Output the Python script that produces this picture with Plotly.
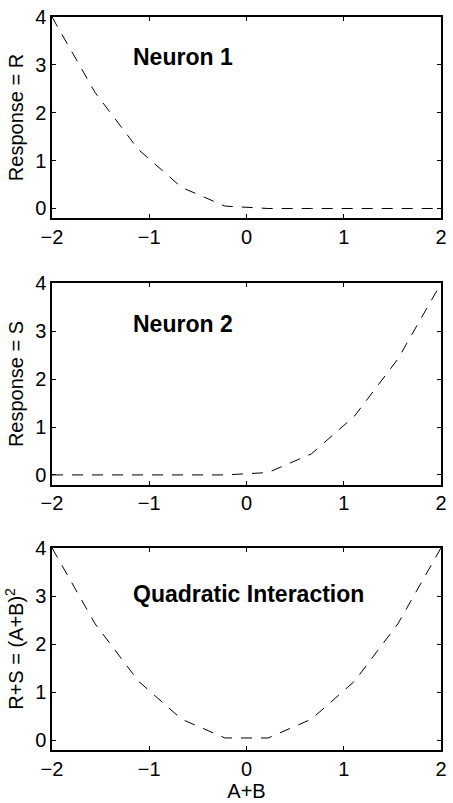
import plotly.graph_objects as go
from plotly.subplots import make_subplots

# Sample points of the input drive A+B
ab = [-2.0, -1.556, -1.111, -0.667, -0.222, 0.222, 0.667, 1.111, 1.556, 2.0]

# Rectified-square responses of the two neurons and their sum
neuron1_r = [4.0, 2.42, 1.23, 0.44, 0.05, 0.0, 0.0, 0.0, 0.0, 0.0]
neuron2_s = [0.0, 0.0, 0.0, 0.0, 0.0, 0.05, 0.44, 1.23, 2.42, 4.0]
sum_rs = [4.0, 2.42, 1.23, 0.44, 0.05, 0.05, 0.44, 1.23, 2.42, 4.0]

panel_titles = ["Neuron 1", "Neuron 2", "Quadratic Interaction"]
y_titles = ["Response = R", "Response = S", "R+S = (A+B)<sup>2</sup>"]
x_ticks = [-2, -1, 0, 1, 2]
y_ticks = [0, 1, 2, 3, 4]
label_pos = [(-1.19, 3.17), (-1.19, 3.15), (-1.19, 3.04)]

FONT = "Liberation Sans, Arial, Helvetica, sans-serif"
FS = 20

fig = make_subplots(rows=3, cols=1)
domains = [[0.7257, 1.0], [0.3622, 0.6365], [0.0, 0.2757]]

series = [neuron1_r, neuron2_s, sum_rs]
for i, ys in enumerate(series):
    row = i + 1
    fig.add_trace(
        go.Scatter(x=ab, y=ys, mode="lines",
                   line=dict(color="black", width=1, dash="11px,9px"),
                   showlegend=False, hoverinfo="skip"),
        row=row, col=1)
    fig.update_xaxes(
        range=[-2, 2], tickvals=x_ticks, ticks="inside", ticklen=4,
        tickwidth=1, tickcolor="black", showline=True, linecolor="black",
        linewidth=1.5, mirror="allticks", showgrid=False, zeroline=False,
        tickfont=dict(family=FONT, size=FS, color="black"),
        row=row, col=1)
    fig.update_yaxes(
        range=[-0.2, 4], tickvals=y_ticks, ticks="inside", ticklen=4,
        tickwidth=1, tickcolor="black", showline=True, linecolor="black",
        linewidth=1.5, mirror="allticks", showgrid=False, zeroline=False,
        domain=domains[i],
        tickfont=dict(family=FONT, size=FS, color="black"),
        title=dict(text=y_titles[i], standoff=6,
                   font=dict(family=FONT, size=FS, color="black")),
        row=row, col=1)
    lx, ly = label_pos[i]
    fig.add_annotation(
        x=lx, y=ly, xref=f"x{'' if row == 1 else row}",
        yref=f"y{'' if row == 1 else row}",
        text=f"<b>{panel_titles[i]}</b>", showarrow=False,
        xanchor="left", yanchor="middle",
        font=dict(family=FONT, size=23, color="black"))

fig.update_xaxes(title=dict(text="A+B", standoff=0,
                            font=dict(family=FONT, size=FS, color="black")),
                 row=3, col=1)

fig.update_layout(
    width=453, height=803,
    margin=dict(l=52, r=6, t=10, b=53),
    paper_bgcolor="white", plot_bgcolor="white",
)

fig.write_html("out.html", config={"displayModeBar": False})
